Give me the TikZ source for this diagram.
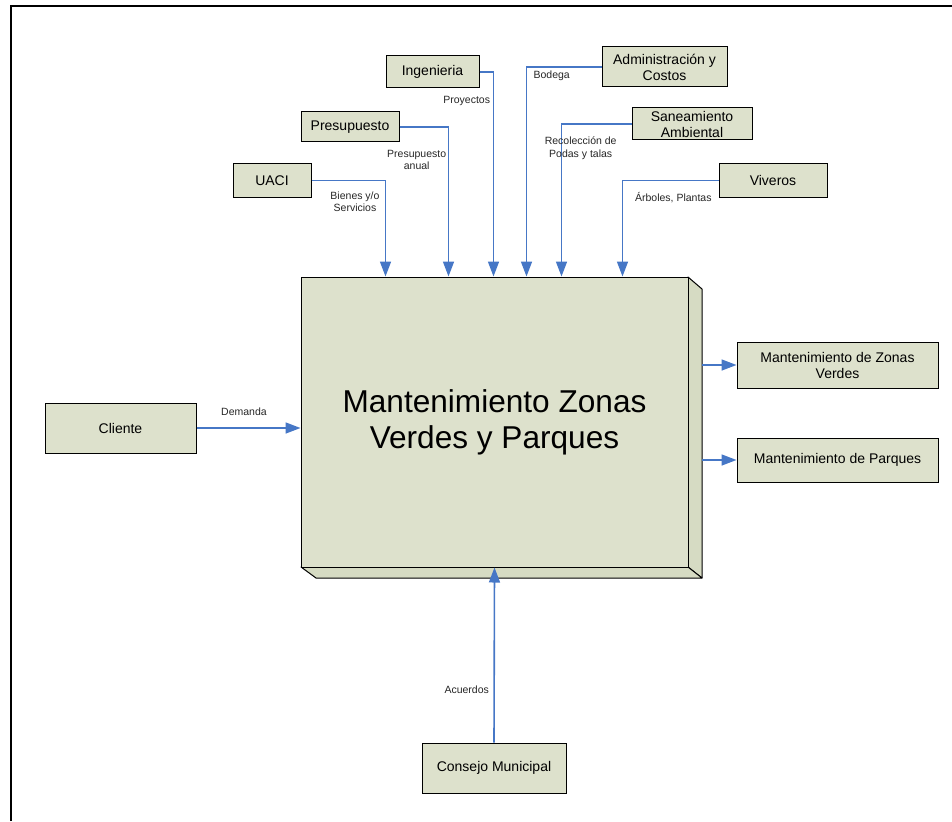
\documentclass[tikz,border=0pt]{standalone}
\usepackage{fontspec}
\setmainfont{Liberation Sans}
\usetikzlibrary{arrows.meta}
\definecolor{boxfill}{HTML}{DDE1CC}
\definecolor{sidefill}{HTML}{D6DBC3}
\definecolor{flow}{HTML}{4677C6}
\tikzset{
  unitbox/.style={draw=black, line width=1pt, fill=boxfill, inner sep=0pt,
    align=center, font=\fontsize{14}{16}\selectfont},
  flowline/.style={draw=flow, line width=1.6pt,
    -{Triangle[length=15pt,width=11pt]}},
  flowlabel/.style={font=\fontsize{10.5}{12.5}\selectfont, align=center,
    text=black!85, inner sep=0pt},
}
\begin{document}
\begin{tikzpicture}[x=1pt,y=-1pt]
\useasboundingbox (0,0) rectangle (952,821);

% outer frame
\draw[line width=2pt] (10.5,821) -- (10.5,6.5) -- (952,6.5);

% extruded sides of the central process block
\draw[line width=1pt, fill=sidefill, line join=round]
  (688,277) -- (702,289) -- (702,578) -- (688,567) -- cycle;
\draw[line width=1pt, fill=sidefill, line join=round]
  (301,567) -- (316,578) -- (702,578) -- (688,567) -- cycle;
\coordinate (sideR) at (702,289);

% central process block
\node[unitbox, minimum width=387pt, minimum height=290pt,
      font=\fontsize{31.6}{36}\selectfont] (main) at (494.5,422)
  {Mantenimiento Zonas\\Verdes y Parques};

% suppliers
\node[unitbox, minimum width=93pt,  minimum height=32pt] (ing)  at (432.5,72)  {Ingenieria};
\node[unitbox, minimum width=98pt,  minimum height=30pt] (pres) at (350,127)   {Presupuesto};
\node[unitbox, minimum width=78pt,  minimum height=33pt] (uaci) at (272,180.5) {UACI};
\node[unitbox, minimum width=125pt, minimum height=40pt] (adm)  at (664.5,67)  {Administración y\\Costos};
\node[unitbox, minimum width=120pt, minimum height=32pt] (san)  at (692,124)   {Saneamiento\\Ambiental};
\node[unitbox, minimum width=108pt, minimum height=33pt] (viv)  at (773,180.5) {Viveros};
\node[unitbox, minimum width=151pt, minimum height=50pt] (cli)  at (120.5,428) {Cliente};
\node[unitbox, minimum width=144pt, minimum height=50pt] (con)  at (494,768)   {Consejo Municipal};

% outputs
\node[unitbox, minimum width=201pt, minimum height=46pt] (mzv) at (837.5,365) {Mantenimiento de Zonas\\Verdes};
\node[unitbox, minimum width=201pt, minimum height=44pt] (mp)  at (837.5,460) {Mantenimiento de Parques};

% inputs from above
\draw[flowline] (uaci.east) -| ([xshift=85pt]main.north west);
\draw[flowline] (pres.east) -| ([xshift=148pt]main.north west);
\draw[flowline] (ing.east)  -| ([xshift=193pt]main.north west);
\draw[flowline] (adm.west)  -| ([xshift=226pt]main.north west);
\draw[flowline] (san.west)  -| ([xshift=261pt]main.north west);
\draw[flowline] (viv.west)  -| ([xshift=322pt]main.north west);

% side inputs and outputs
\draw[flowline] (cli.east) -- (cli.east -| main.west);
\draw[flowline] (con.north) -- (main.south);
\draw[flowline] (sideR |- mzv.west) -- (mzv.west);
\draw[flowline] (sideR |- mp.west) -- (mp.west);

% flow labels
\node[flowlabel] (lUaci) at (355,201.5)   {Bienes y/o\\Servicios};
\node[flowlabel] (lPres) at (416.7,159.7) {Presupuesto\\anual};
\node[flowlabel] (lIng)  at (466.7,100.7) {Proyectos};
\node[flowlabel] (lAdm)  at (551.7,75.3)  {Bodega};
\node[flowlabel] (lSan)  at (580.7,148)   {Recolección de\\Podas y talas};
\node[flowlabel] (lViv)  at (673.3,197.3) {Árboles, Plantas};
\node[flowlabel] (lCli)  at (244,412)     {Demanda};
\node[flowlabel] (lCon)  at (466.7,689.3) {Acuerdos};
\end{tikzpicture}
\end{document}
